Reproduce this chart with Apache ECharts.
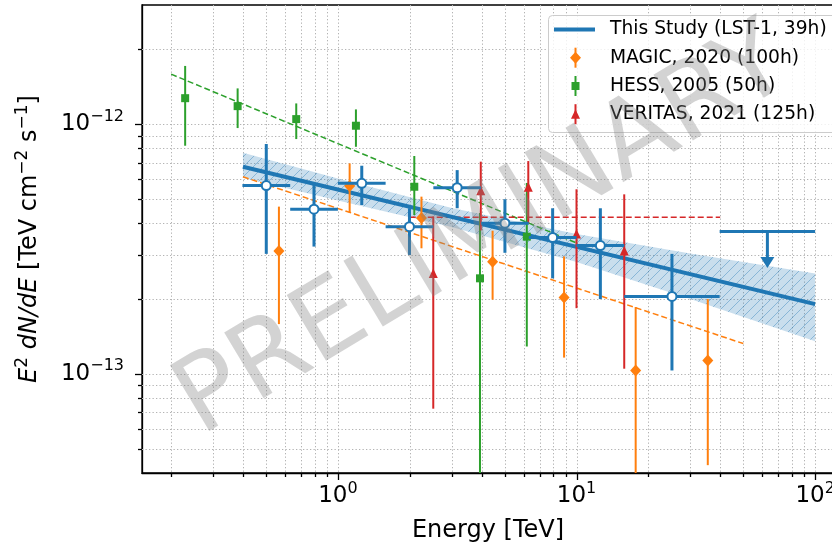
<!DOCTYPE html>
<html><head><meta charset="utf-8">
<script src="https://cdn.jsdelivr.net/npm/echarts@6/dist/echarts.min.js"></script>
<style>html,body{margin:0;padding:0;background:#fff}#c{width:832px;height:550px}</style>
</head><body><div id="c"></div>
<script>
// ---------------- data ----------------
// LST-1 flux points (E in TeV, E^2 dN/dE in TeV cm^-2 s^-1)
const lstE    = [0.501, 0.794, 1.259, 1.995, 3.162, 5.012, 7.943, 12.59, 25.12];
const lstElo  = [0.398, 0.631, 1.000, 1.585, 2.512, 3.981, 6.310, 10.00, 15.85];
const lstEhi  = [0.631, 1.000, 1.585, 2.512, 3.981, 6.310, 10.00, 15.85, 39.81];
const lstF    = [5.67e-13, 4.56e-13, 5.79e-13, 3.88e-13, 5.56e-13, 4.01e-13, 3.51e-13, 3.26e-13, 2.04e-13];
const lstFhi  = [8.32e-13, 5.74e-13, 6.81e-13, 4.60e-13, 6.54e-13, 5.00e-13, 4.60e-13, 4.60e-13, 3.02e-13];
const lstFlo  = [3.02e-13, 3.23e-13, 4.74e-13, 2.99e-13, 4.60e-13, 3.05e-13, 2.41e-13, 1.99e-13, 1.03e-13];
// LST-1 upper limit
const ulE   = [63.1];
const ulElo = [39.81];
const ulEhi = [100];
const ulF   = [3.71e-13];
const ulTip = [2.65e-13];
// LST-1 fitted model and its uncertainty band
const lstFitE = [0.4, 100];
const lstFitF = [6.75e-13, 1.90e-13];
const bandE  = [0.4, 1, 3, 10, 30, 100];
const bandHi = [7.68e-13, 6.05e-13, 4.61e-13, 3.63e-13, 3.03e-13, 2.52e-13];
const bandLo = [6.10e-13, 4.94e-13, 3.87e-13, 2.80e-13, 1.99e-13, 1.35e-13];
// MAGIC 2020
const magicE   = [0.566, 1.12, 2.24, 4.45, 8.87, 17.7, 35.5];
const magicF   = [3.10e-13, 5.65e-13, 4.20e-13, 2.81e-13, 2.02e-13, 1.03e-13, 1.13e-13];
const magicFhi = [4.67e-13, 6.96e-13, 5.12e-13, 3.74e-13, 2.95e-13, 1.85e-13, 1.99e-13];
const magicFlo = [1.58e-13, 4.42e-13, 3.18e-13, 1.98e-13, 1.16e-13, 0, 4.30e-14];
const magicFitE = [0.4, 50];
const magicFitF = [6.15e-13, 1.32e-13];
// HESS 2005
const hessE   = [0.229, 0.380, 0.669, 1.19, 2.09, 3.94, 6.19];
const hessF   = [1.27e-12, 1.18e-12, 1.047e-12, 9.85e-13, 5.61e-13, 2.41e-13, 3.54e-13];
const hessFhi = [1.71e-12, 1.39e-12, 1.21e-12, 1.145e-12, 7.45e-13, 4.40e-13, 5.81e-13];
const hessFlo = [8.19e-13, 9.64e-13, 8.71e-13, 8.11e-13, 4.32e-13, 0, 1.285e-13];
const hessFitE = [0.2, 10];
const hessFitF = [1.585e-12, 3.34e-13];
// VERITAS 2021
const verE   = [2.51, 3.97, 6.28, 10.0, 15.85];
const verF   = [2.52e-13, 5.41e-13, 5.58e-13, 3.63e-13, 3.10e-13];
const verFhi = [4.26e-13, 7.07e-13, 7.11e-13, 5.48e-13, 5.23e-13];
const verFlo = [7.24e-14, 3.75e-13, 4.00e-13, 1.83e-13, 1.047e-13];
const verFitE = [2, 40];
const verFitF = [4.23e-13, 4.23e-13];
// axes
const xRange = [0.151, 120];
const yRange = [4e-14, 3e-12];
const xMajor = [1, 10, 100];
const xMinor = [0.2,0.3,0.4,0.5,0.6,0.7,0.8,0.9, 2,3,4,5,6,7,8,9, 20,30,40,50,60,70,80,90];
const yMajor = [1e-13, 1e-12];
const yMinor = [5e-14,6e-14,7e-14,8e-14,9e-14, 2e-13,3e-13,4e-13,5e-13,6e-13,7e-13,8e-13,9e-13, 2e-12];
const legendLabels = ['This Study (LST-1, 39h)', 'MAGIC, 2020 (100h)', 'HESS, 2005 (50h)', 'VERITAS, 2021 (125h)'];
const xTitle = 'Energy [TeV]';
const watermark = 'PRELIMINARY';

// ---------------- rendering ----------------
const YU = 1e-12;           // plot flux in units of 1e-12 (label exponents shifted back)
const YEXP = -12;
const FONT = '"DejaVu Sans", sans-serif';
const BLUE = '#1f77b4', ORANGE = '#ff7f0e', GREEN = '#2ca02c', RED = '#d62728';

function hatchCanvas() {
  const c = document.createElement('canvas'); c.width = 10; c.height = 10;
  const g = c.getContext('2d');
  g.strokeStyle = 'rgba(31,119,180,0.38)'; g.lineWidth = 1;
  g.beginPath();
  g.moveTo(0, 10); g.lineTo(10, 0);
  g.moveTo(-5, 5); g.lineTo(5, -5);
  g.moveTo(5, 15); g.lineTo(15, 5);
  g.stroke();
  return c;
}
const HATCH = hatchCanvas();

function powLabel(v, offset) {
  const lg = Math.log10(v);
  const n = Math.round(lg);
  if (Math.abs(lg - n) > 1e-6) return '';
  const e = n + offset;
  return '{b|10}{s|' + (e < 0 ? '\u2212' + (-e) : String(e)) + '}';
}
const tickRich = {
  b: {fontSize: 23, fontFamily: FONT, color: '#000', lineHeight: 26},
  s: {fontSize: 16, fontFamily: FONT, color: '#000', lineHeight: 18, padding: [0, 0, 15, 0]}
};

function scaled(F) { return F > 0 ? F / YU : 0; }
function errData(E, El, Eh, F, Flo, Fhi) {
  return E.map((e, i) => [e, scaled(F[i]), El ? El[i] : e, Eh ? Eh[i] : e, scaled(Flo[i]), scaled(Fhi[i])]);
}
function lineData(E, F) { return E.map((e, i) => [e, scaled(F[i])]); }

const markers = {
  circle: (x, y, c) => ({type: 'circle', shape: {cx: x, cy: y, r: 4.5}, style: {fill: '#fff', stroke: c, lineWidth: 2}}),
  diamond: (x, y, c) => ({type: 'polygon', shape: {points: [[x, y - 6], [x + 5.5, y], [x, y + 6], [x - 5.5, y]]}, style: {fill: c}}),
  square: (x, y, c) => ({type: 'rect', shape: {x: x - 4, y: y - 4, width: 8, height: 8}, style: {fill: c}}),
  triangle: (x, y, c) => ({type: 'polygon', shape: {points: [[x, y - 5], [x - 4.5, y + 4.5], [x + 4.5, y + 4.5]]}, style: {fill: c}})
};

function makeErr(color, lw, marker) {
  return function (params, api) {
    const cs = params.coordSys;
    const E = api.value(0), F = api.value(1), El = api.value(2), Eh = api.value(3), Fl = api.value(4), Fh = api.value(5);
    const c = api.coord([E, F]);
    const bottom = cs.y + cs.height;
    const yTop = api.coord([E, Fh])[1];
    const yBot = Fl > 0 ? Math.min(api.coord([E, Fl])[1], bottom) : bottom;
    const ch = [{type: 'line', shape: {x1: c[0], y1: yTop, x2: c[0], y2: yBot}, style: {stroke: color, lineWidth: lw}}];
    if (Eh > El) {
      const xl = api.coord([El, F])[0], xh = api.coord([Eh, F])[0];
      ch.push({type: 'line', shape: {x1: xl, y1: c[1], x2: xh, y2: c[1]}, style: {stroke: color, lineWidth: lw}});
    }
    ch.push(markers[marker](c[0], c[1], color));
    return {type: 'group', children: ch};
  };
}

function errSeries(data, color, lw, marker, z) {
  return {type: 'custom', data: data, encode: {x: 0, y: 1}, renderItem: makeErr(color, lw, marker),
          z: z, clip: true, silent: true, animation: false};
}
function fitSeries(data, color, width, dashed, z) {
  return {type: 'line', data: data, showSymbol: false, symbol: 'none', z: z, silent: true,
          lineStyle: {color: color, width: width, type: dashed ? [6, 3] : 'solid'}};
}

const GRIDC = '#b3b3b3';
function xGridRender(params, api) {
  const cs = params.coordSys;
  let x = api.coord([api.value(0), 1])[0];
  x = Math.round(x) + 0.5;
  const major = api.value(2) === 1;
  const b = cs.y + cs.height;
  return {type: 'group', children: [
    {type: 'line', shape: {x1: x, y1: cs.y, x2: x, y2: b}, style: {stroke: GRIDC, lineWidth: 1, lineDash: [1.3, 2.2]}},
    {type: 'line', shape: {x1: x, y1: b, x2: x, y2: b + (major ? 7 : 4)}, style: {stroke: '#000', lineWidth: 1.3}}
  ]};
}
function yGridRender(params, api) {
  const cs = params.coordSys;
  let y = api.coord([1, api.value(1)])[1];
  y = Math.round(y) + 0.5;
  const major = api.value(2) === 1;
  return {type: 'group', children: [
    {type: 'line', shape: {x1: cs.x, y1: y, x2: cs.x + cs.width, y2: y}, style: {stroke: GRIDC, lineWidth: 1, lineDash: [1.3, 2.2]}},
    {type: 'line', shape: {x1: cs.x - (major ? 7 : 4), y1: y, x2: cs.x, y2: y}, style: {stroke: '#000', lineWidth: 1.3}}
  ]};
}

function bandRender(params, api) {
  const up = bandE.map((e, i) => api.coord([e, scaled(bandHi[i])]));
  const lo = bandE.map((e, i) => api.coord([e, scaled(bandLo[i])])).reverse();
  const pts = up.concat(lo);
  return {type: 'group', children: [
    {type: 'polygon', shape: {points: pts}, style: {fill: 'rgba(31,119,180,0.24)'}},
    {type: 'polygon', shape: {points: pts}, style: {fill: {image: HATCH, repeat: 'repeat'}}}
  ]};
}

function ulRender(params, api) {
  const E = api.value(0), F = api.value(1), El = api.value(2), Eh = api.value(3), Ft = api.value(4);
  const c = api.coord([E, F]);
  const xl = api.coord([El, F])[0], xh = api.coord([Eh, F])[0];
  const tip = api.coord([E, Ft])[1];
  const head = 11, hw = 7;
  return {type: 'group', children: [
    {type: 'line', shape: {x1: xl, y1: c[1], x2: xh, y2: c[1]}, style: {stroke: BLUE, lineWidth: 3}},
    {type: 'line', shape: {x1: c[0], y1: c[1], x2: c[0], y2: tip - head + 1}, style: {stroke: BLUE, lineWidth: 3}},
    {type: 'polygon', shape: {points: [[c[0] - hw, tip - head], [c[0] + hw, tip - head], [c[0], tip]]}, style: {fill: BLUE}}
  ]};
}

// legend (graphic)
const LX = 575.5, rows = [29.5, 57.7, 86, 114.2];
const legendEls = [
  {type: 'rect', shape: {x: 548.5, y: 15.5, width: 300, height: 117, r: 4}, style: {fill: 'rgba(255,255,255,0.8)', stroke: '#cccccc', lineWidth: 1}},
  {type: 'line', shape: {x1: 554, y1: rows[0], x2: 595, y2: rows[0]}, style: {stroke: BLUE, lineWidth: 4}},
  {type: 'line', shape: {x1: LX, y1: rows[1] - 10, x2: LX, y2: rows[1] + 10}, style: {stroke: ORANGE, lineWidth: 2}},
  {type: 'line', shape: {x1: LX, y1: rows[2] - 10, x2: LX, y2: rows[2] + 10}, style: {stroke: GREEN, lineWidth: 2}},
  {type: 'line', shape: {x1: LX, y1: rows[3] - 10, x2: LX, y2: rows[3] + 10}, style: {stroke: RED, lineWidth: 2}},
  markers.diamond(LX, rows[1], ORANGE),
  markers.square(LX, rows[2], GREEN),
  markers.triangle(LX, rows[3], RED)
].concat(legendLabels.map((t, i) => ({
  type: 'text', x: 610, y: rows[i],
  style: {text: t, fill: '#000', fontSize: 18.7, fontFamily: FONT, align: 'left', verticalAlign: 'middle',
          textAlign: 'left', textVerticalAlign: 'middle'}
}))).map(el => Object.assign(el, {z: 100, silent: true}));

const wmEl = {type: 'text', x: 484, y: 234, rotation: 31 * Math.PI / 180, z: 200, silent: true,
  style: {text: watermark, fill: 'rgba(128,128,128,0.35)', fontSize: 105, fontFamily: FONT,
          align: 'center', verticalAlign: 'middle', textAlign: 'center', textVerticalAlign: 'middle'}};

const chart = echarts.init(document.getElementById('c'), null, {renderer: 'canvas'});
chart.setOption({
  animation: false,
  backgroundColor: '#fff',
  grid: {left: 142, top: 5, right: -2, bottom: 77, show: true, borderColor: '#000', borderWidth: 1.3,
         backgroundColor: 'transparent', containLabel: false, outerBoundsMode: 'none'},
  xAxis: {
    type: 'log', logBase: 10, min: xRange[0], max: xRange[1],
    splitLine: {show: false}, axisTick: {show: false},
    axisLine: {show: true, lineStyle: {color: '#000', width: 1.3}},
    axisLabel: {formatter: v => powLabel(v, 0), rich: tickRich, margin: 10},
    name: xTitle, nameLocation: 'middle', nameGap: 46,
    nameTextStyle: {fontSize: 24, fontFamily: FONT, color: '#000'}
  },
  yAxis: {
    type: 'log', logBase: 10, min: yRange[0] / YU, max: yRange[1] / YU,
    splitLine: {show: false}, axisTick: {show: false},
    axisLine: {show: true, lineStyle: {color: '#000', width: 1.3}},
    axisLabel: {formatter: v => powLabel(v, YEXP), rich: tickRich, margin: 18},
    name: '{i|E}{s|2}{n| }{i|dN/dE}{n| [TeV cm}{s|\u22122}{n| s}{s|\u22121}{n|]}',
    nameLocation: 'middle', nameGap: 98,
    nameTextStyle: {rich: {
      i: {fontSize: 24, fontFamily: FONT, fontStyle: 'italic', color: '#000', lineHeight: 28},
      n: {fontSize: 24, fontFamily: FONT, color: '#000', lineHeight: 28},
      s: {fontSize: 17, fontFamily: FONT, color: '#000', lineHeight: 19, padding: [0, 0, 15, 0]}
    }}
  },
  graphic: {elements: legendEls.concat([wmEl])},
  series: [
    {type: 'custom', silent: true, clip: false, z: 1, encode: {x: 0, y: 1}, renderItem: xGridRender,
     data: xMajor.map(v => [v, 1, 1]).concat(xMinor.map(v => [v, 1, 0]))},
    {type: 'custom', silent: true, clip: false, z: 1, encode: {x: 0, y: 1}, renderItem: yGridRender,
     data: yMajor.map(v => [1, v / YU, 1]).concat(yMinor.map(v => [1, v / YU, 0]))},
    {type: 'custom', silent: true, clip: true, z: 2, encode: {x: 0, y: 1}, renderItem: bandRender, data: [[1, 1]]},
    fitSeries(lineData(magicFitE, magicFitF), ORANGE, 1.5, true, 3),
    fitSeries(lineData(hessFitE, hessFitF), GREEN, 1.5, true, 3),
    fitSeries(lineData(verFitE, verFitF), RED, 1.5, true, 3),
    fitSeries(lineData(lstFitE, lstFitF), BLUE, 4, false, 3),
    errSeries(errData(magicE, null, null, magicF, magicFlo, magicFhi), ORANGE, 2, 'diamond', 4),
    errSeries(errData(hessE, null, null, hessF, hessFlo, hessFhi), GREEN, 2, 'square', 4),
    errSeries(errData(verE, null, null, verF, verFlo, verFhi), RED, 2, 'triangle', 4),
    errSeries(errData(lstE, lstElo, lstEhi, lstF, lstFlo, lstFhi), BLUE, 3, 'circle', 5),
    {type: 'custom', silent: true, clip: true, z: 5, encode: {x: 0, y: 1}, renderItem: ulRender,
     data: ulE.map((e, i) => [e, scaled(ulF[i]), ulElo[i], ulEhi[i], scaled(ulTip[i])])}
  ]
});
</script></body></html>
